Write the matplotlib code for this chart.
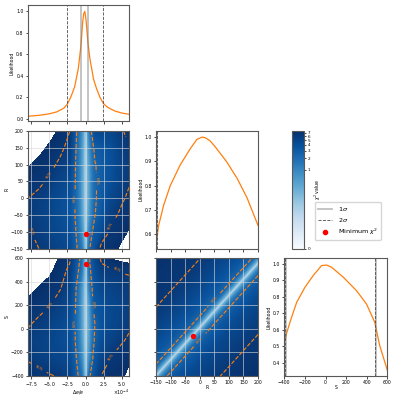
import numpy as np
import matplotlib
matplotlib.use("Agg")
import matplotlib.pyplot as plt
from matplotlib.colors import PowerNorm
from matplotlib.cm import ScalarMappable
from matplotlib.lines import Line2D
from matplotlib.ticker import MultipleLocator, ScalarFormatter

plt.rcParams['font.size'] = 3.3
plt.rcParams['axes.edgecolor'] = '0.35'
plt.rcParams['axes.linewidth'] = 0.8
plt.rcParams['axes.labelpad'] = 1.0
plt.rcParams['xtick.major.size'] = 1.8
plt.rcParams['ytick.major.size'] = 1.8
plt.rcParams['xtick.major.width'] = 0.5
plt.rcParams['ytick.major.width'] = 0.5
plt.rcParams['xtick.major.pad'] = 1.0
plt.rcParams['ytick.major.pad'] = 1.2

# 1D likelihood profiles (de/e in units of 1e-4)
de_like_x = [-8, -7, -6, -5, -4, -3, -2.5, -2, -1.5, -1.0, -0.64, -0.4, -0.25, -0.1,
             0.05, 0.33, 0.6, 0.84, 1.1, 1.53, 2.0, 2.45, 3, 4, 5, 6]
de_like = [0.025, 0.03, 0.037, 0.048, 0.065, 0.10, 0.14, 0.21, 0.30, 0.47, 0.68, 0.90,
           0.98, 1.0, 0.93, 0.71, 0.56, 0.47, 0.37, 0.28, 0.20, 0.145, 0.11, 0.075,
           0.055, 0.043]
de_1sig = [-0.64, 0.33]
de_2sig = [-2.53, 2.45]

r_like_x = [-150, -141, -124, -101, -67, -32, -10, 8, 19, 35, 53, 93, 128, 162, 200]
r_like = [0.555, 0.635, 0.718, 0.80, 0.885, 0.953, 0.99, 1.0, 0.997, 0.985, 0.96,
          0.897, 0.83, 0.75, 0.635]
r_1sig = [-146]
r_2sig = [-148]

s_like_x = [-400, -377, -345, -280, -200, -119, -38, 10, 58, 171, 300, 397, 477, 525, 600]
s_like = [0.52, 0.58, 0.646, 0.767, 0.858, 0.93, 0.99, 0.993, 0.98, 0.92, 0.838,
          0.757, 0.646, 0.505, 0.353]
s_1sig = [-385, 490]
s_2sig = [-395, 480]

# chi2 grids
de_nodes = [-8, -6.5, -5, -3.5, -2.2, -1.3, -0.6, -0.25, 0, 0.25, 0.6, 1.3, 2.2, 3.5, 5, 6]
r_nodes = [-150, -100, -50, 0, 50, 100, 150, 200]
s_nodes = [-400, -250, -100, 50, 200, 350, 500, 600]

chi2_de_r = [
    [7.0, 6.2, 5.6, 5.0, 4.4, 2.5, 1.5, 0.28, 0.01, 0.42, 2.35, 3.8, 7.1, 6.9, 7.8, 8.4],
    [6.4, 5.7, 5.1, 4.5, 3.9, 2.25, 0.8, 0.14, 0.0, 0.2, 1.2, 3.4, 4.2, 6.6, 7.1, 7.6],
    [6.0, 5.4, 4.8, 4.2, 3.6, 2.0, 0.5, 0.09, 0.005, 0.1, 0.6, 2.25, 3.3, 5.5, 6.6, 7.0],
    [6.2, 5.7, 5.0, 4.3, 3.7, 2.0, 0.45, 0.08, 0.01, 0.08, 0.45, 2.1, 3.0, 4.6, 5.9, 6.5],
    [6.85, 6.6, 5.9, 4.9, 4.2, 2.0, 0.45, 0.08, 0.01, 0.08, 0.45, 2.1, 2.9, 4.0, 5.3, 6.0],
    [7.6, 7.2, 6.7, 5.8, 4.9, 2.05, 0.5, 0.09, 0.01, 0.1, 0.55, 2.2, 2.9, 3.8, 5.2, 5.8],
    [8.5, 7.9, 7.3, 6.6, 5.6, 2.25, 0.6, 0.1, 0.015, 0.14, 0.8, 2.8, 3.1, 4.0, 5.5, 6.1],
    [9.5, 8.8, 8.0, 7.3, 6.2, 2.5, 0.8, 0.14, 0.02, 0.26, 1.5, 4.3, 4.8, 4.8, 6.0, 6.7],
]

chi2_de_s = [
    [7.0, 6.6, 6.3, 6.0, 5.2, 2.7, 1.7, 0.3, 0.02, 0.38, 2.2, 3.8, 6.2, 7.2, 7.2, 8.0],
    [6.0, 5.6, 5.2, 4.8, 4.2, 2.35, 0.9, 0.16, 0.015, 0.16, 0.9, 3.3, 4.9, 6.25, 6.9, 7.1],
    [5.7, 5.3, 4.9, 4.4, 3.8, 2.05, 0.55, 0.1, 0.01, 0.09, 0.5, 2.6, 4.0, 5.2, 6.0, 6.45],
    [6.4, 5.9, 5.4, 4.7, 3.9, 2.0, 0.45, 0.08, 0.01, 0.08, 0.45, 2.35, 3.6, 4.6, 5.3, 5.8],
    [7.1, 6.7, 6.25, 5.4, 4.4, 2.1, 0.45, 0.08, 0.01, 0.1, 0.6, 3.2, 3.8, 4.6, 5.1, 5.6],
    [8.0, 7.45, 7.0, 6.3, 5.0, 2.28, 0.6, 0.1, 0.005, 0.22, 1.3, 3.6, 4.6, 5.2, 5.6, 5.9],
    [9.0, 8.3, 7.8, 6.9, 5.8, 3.0, 1.5, 0.26, 0.0, 0.36, 2.1, 3.9, 5.6, 6.0, 6.3, 6.3],
    [9.8, 9.0, 8.5, 7.3, 6.5, 3.4, 1.9, 0.33, 0.005, 0.43, 2.5, 4.5, 6.6, 7.6, 8.0, 8.4],
]

# R-S panel: chi2 across the diagonal valley
band_r = [-150, -100, -50, 0, 50, 100, 150, 200]
band_center_s = [-400, -263, -126, 11, 149, 286, 423, 560]
band_offset = [-1000, -750, -500, -300, -170, -100, -60, -35, -15, 0, 15, 35, 60, 90,
               200, 350, 500, 700, 1050]
band_chi2 = [7.4, 6.8, 5.7, 4.5, 3.2, 2.2, 1.0, 0.3, 0.04, 0.0, 0.04, 0.3, 1.0, 2.2,
             3.5, 4.7, 5.8, 6.7, 7.4]

min_de_r = (0.0, -108)
min_de_s = (0.0, 550)
min_r_s = (-22, -60)

levels_sig = [2.3, 6.18]
level_fmt = {2.3: '68%', 6.18: '95%'}
vmax = 7.5
norm = PowerNorm(gamma=0.2, vmin=0, vmax=vmax)
fill_levels = vmax * np.linspace(0, 1, 160) ** 5
orange = '#ff7f0e'

fig = plt.figure(figsize=(3.97, 3.97), dpi=100)
ax_de = fig.add_axes([0.0698, 0.695, 0.255, 0.2925])
ax_der = fig.add_axes([0.0698, 0.374, 0.255, 0.296])
ax_des = fig.add_axes([0.0698, 0.0537, 0.255, 0.2957])
ax_r = fig.add_axes([0.393, 0.374, 0.257, 0.296])
ax_rs = fig.add_axes([0.393, 0.0537, 0.257, 0.2957])
ax_s = fig.add_axes([0.716, 0.0537, 0.260, 0.2957])
cax = fig.add_axes([0.7355, 0.374, 0.030, 0.296])

de_scale = 1e-4


def like_panel(ax, x, y, one, two):
    ax.plot(x, y, color=orange, lw=0.9)
    for v in one:
        ax.axvline(v, color='gray', lw=1.3, alpha=0.5)
    for v in two:
        ax.axvline(v, color='0.3', lw=0.6, ls='--')
    ax.set_ylabel('Likelihood')


def chi2_panel(ax, x, y, z, dot, xlim, ylim):
    ax.set_xlim(*xlim)
    ax.set_ylim(*ylim)
    ax.contourf(x, y, z, levels=fill_levels, cmap='Blues', norm=norm)
    cs = ax.contour(x, y, z, levels=levels_sig, colors=orange, linestyles='--',
                    linewidths=0.8)
    labels = ax.clabel(cs, fmt=level_fmt, fontsize=2.6)
    # drop labels that landed on contour parts outside the visible area
    for t in labels:
        px, py = t.get_position()
        if not (xlim[0] < px < xlim[1] and ylim[0] < py < ylim[1]):
            t.remove()
    ax.grid(True, color='0.85', alpha=0.7, lw=0.6)
    ax.scatter([dot[0]], [dot[1]], color='red', s=8, zorder=5)


de_x = np.array(de_like_x) * de_scale
like_panel(ax_de, de_x, de_like, np.array(de_1sig) * de_scale,
           np.array(de_2sig) * de_scale)
ax_de.set_ylim(-0.02, 1.06)
ax_de.yaxis.set_major_locator(MultipleLocator(0.2))

like_panel(ax_r, r_like_x, r_like, r_1sig, r_2sig)
ax_r.set_ylim(0.54, 1.025)
ax_r.yaxis.set_major_locator(MultipleLocator(0.1))

like_panel(ax_s, s_like_x, s_like, s_1sig, s_2sig)
ax_s.set_ylim(0.323, 1.034)
ax_s.yaxis.set_major_locator(MultipleLocator(0.1))
ax_s.set_xlabel('S', labelpad=0.5)

de_grid = np.array(de_nodes) * de_scale
chi2_panel(ax_der, de_grid, r_nodes, np.array(chi2_de_r),
           (min_de_r[0] * de_scale, min_de_r[1]), (-8e-4, 6e-4), (-150, 200))
chi2_panel(ax_des, de_grid, s_nodes, np.array(chi2_de_s),
           (min_de_s[0] * de_scale, min_de_s[1]), (-8e-4, 6e-4), (-400, 600))

band_x = np.tile(band_r, (len(band_offset), 1))
band_y = np.array(band_center_s)[None, :] + np.array(band_offset)[:, None]
band_z = np.repeat(np.array(band_chi2)[:, None], len(band_r), axis=1)
chi2_panel(ax_rs, band_x, band_y, band_z, min_r_s, (-150, 200), (-400, 600))

for ax in (ax_de, ax_der, ax_des):
    ax.set_xlim(-8e-4, 6e-4)
    ax.xaxis.set_major_locator(MultipleLocator(2.5e-4))
for ax in (ax_r, ax_rs):
    ax.set_xlim(-150, 200)
    ax.xaxis.set_major_locator(MultipleLocator(50))
ax_s.set_xlim(-400, 600)
ax_s.xaxis.set_major_locator(MultipleLocator(200))

ax_der.set_ylim(-150, 200)
ax_der.yaxis.set_major_locator(MultipleLocator(50))
ax_der.set_ylabel('R')
for ax in (ax_des, ax_rs):
    ax.set_ylim(-400, 600)
    ax.yaxis.set_major_locator(MultipleLocator(200))
ax_des.set_ylabel('S')
ax_des.set_xlabel(r'$\Delta e/e$', labelpad=0.3)
ax_rs.set_xlabel('R', labelpad=0.5)

fmt = ScalarFormatter(useMathText=True)
fmt.set_powerlimits((-3, 3))
ax_des.xaxis.set_major_formatter(fmt)
ax_des.xaxis.OFFSETTEXTPAD = 0.3
ax_des.xaxis.get_offset_text().set_fontsize(3.3)

for ax in (ax_de, ax_der, ax_r):
    ax.tick_params(labelbottom=False)
ax_rs.tick_params(labelleft=False)

sm = ScalarMappable(norm=norm, cmap='Blues')
cb = fig.colorbar(sm, cax=cax, ticks=range(0, 8))
cb.set_label(r'$\chi^2$ value', fontsize=3.3, labelpad=2)
cb.outline.set_edgecolor('0.35')
cb.ax.tick_params(labelsize=3, length=1.5, width=0.5, pad=1)

handles = [
    Line2D([], [], color='gray', lw=1.3, alpha=0.5),
    Line2D([], [], color='0.3', lw=0.6, ls='--'),
    Line2D([], [], color='red', marker='o', ls='none', markersize=3),
]
fig.legend(handles, [r'1$\sigma$', r'2$\sigma$', r'Minimum $\chi^2$'],
           loc='lower right', bbox_to_anchor=(0.967, 0.387), fontsize=4.6,
           handlelength=2.2, borderpad=0.5, labelspacing=0.45)

fig.savefig('out.png', dpi=100)
